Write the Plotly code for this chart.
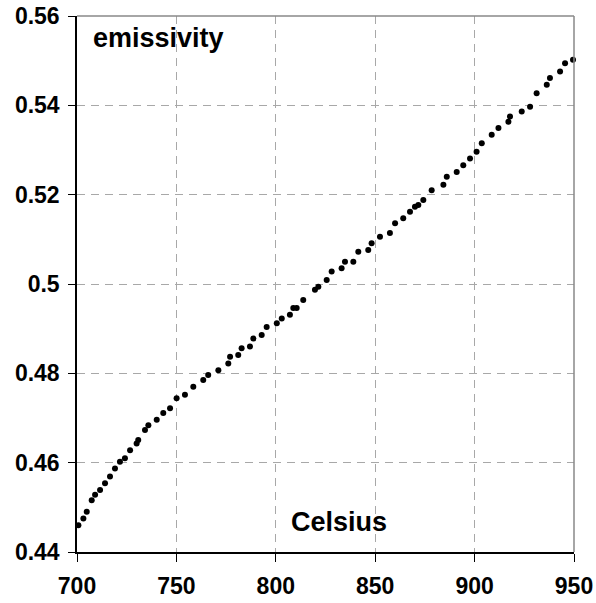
import plotly.graph_objects as go

celsius = [
    699.8, 700.7, 703.2, 704.9, 707.4, 709.1, 711.6, 714.1, 716.6, 719.1,
    721.6, 724.1, 726.7, 730.0, 730.8, 734.2, 735.9, 740.1, 743.4, 746.8,
    750.1, 754.3,
    758.5, 763.5, 766.0, 771.1, 776.1, 777.0, 781.1, 782.8, 787.0, 788.7,
    792.9, 795.4, 800.5, 803.0, 807.1, 810.5,
    808.8, 813.8, 819.7, 821.4, 825.6, 828.1, 833.1, 834.8, 839.0, 841.5,
    846.5, 848.2, 852.4, 857.4, 860.0, 864.1, 867.5, 871.7,
    870.0, 874.2, 878.4, 884.3, 886.0, 891.0, 894.3, 897.7, 901.0, 903.6,
    908.6, 912.0, 917.0, 917.8, 923.7, 927.9, 931.2, 936.3, 937.9, 943.0,
    945.5, 949.5,
]
emissivity = [
    0.4442, 0.4460, 0.4475, 0.4490, 0.4516, 0.4528, 0.4539, 0.4554, 0.4569, 0.4587,
    0.4602, 0.4610, 0.4628, 0.4643, 0.4651, 0.4673, 0.4684, 0.4696, 0.4711, 0.4722,
    0.4744, 0.4752,
    0.4770, 0.4785, 0.4796, 0.4807, 0.4822, 0.4837, 0.4841, 0.4856, 0.4860, 0.4878,
    0.4886, 0.4904, 0.4912, 0.4923, 0.4931, 0.4946,
    0.4946, 0.4964, 0.4987, 0.4994, 0.5009, 0.5028, 0.5035, 0.5050, 0.5050, 0.5072,
    0.5076, 0.5091, 0.5106, 0.5114, 0.5136, 0.5147, 0.5162, 0.5177,
    0.5173, 0.5188, 0.5210, 0.5222, 0.5240, 0.5251, 0.5266, 0.5281, 0.5296, 0.5315,
    0.5334, 0.5349, 0.5363, 0.5375, 0.5386, 0.5397, 0.5427, 0.5446, 0.5461, 0.5476,
    0.5494, 0.5502,
]

x_ticks = [700, 750, 800, 850, 900, 950]
y_ticks = [0.44, 0.46, 0.48, 0.5, 0.52, 0.54, 0.56]
y_tick_labels = ["0.44", "0.46", "0.48", "0.5", "0.52", "0.54", "0.56"]

FONT = "Liberation Sans, Arial, sans-serif"
TICKFONT = dict(family=FONT, size=23, color="black", weight="bold")

fig = go.Figure()
fig.add_trace(go.Scatter(
    x=celsius, y=emissivity, mode="markers",
    marker=dict(color="black", size=6, line=dict(width=0)),
    showlegend=False, cliponaxis=False, hoverinfo="skip",
))

fig.update_layout(
    width=596, height=603,
    margin=dict(l=77, r=22, t=16, b=51, pad=0),
    paper_bgcolor="white", plot_bgcolor="white",
    font=dict(family=FONT, size=18, color="black"),
    xaxis=dict(
        range=[700, 950], tickvals=x_ticks, ticktext=[str(v) for v in x_ticks],
        showgrid=True, gridcolor="#a8a8a8", griddash="8px,6px", gridwidth=1,
        showline=True, linecolor="black", linewidth=1.5,
        ticks="outside", ticklen=8, tickcolor="black", tickwidth=1,
        ticklabelstandoff=5,
        tickfont=TICKFONT, automargin=False, zeroline=False,
    ),
    yaxis=dict(
        range=[0.44, 0.56], tickvals=y_ticks, ticktext=y_tick_labels,
        showgrid=True, gridcolor="#a8a8a8", griddash="8px,6px", gridwidth=1,
        showline=True, linecolor="black", linewidth=1.5,
        ticks="outside", ticklen=7, tickcolor="black", tickwidth=1,
        ticklabelstandoff=4,
        tickfont=TICKFONT, automargin=False, zeroline=False,
    ),
    shapes=[
        dict(type="line", xref="paper", yref="paper", x0=0, x1=1, y0=1, y1=1,
             line=dict(color="#888888", width=1.5)),
        dict(type="line", xref="paper", yref="paper", x0=1, x1=1, y0=0, y1=1,
             line=dict(color="#888888", width=1.5)),
    ],
    annotations=[
        dict(text="emissivity", xref="paper", yref="paper", x=0.028, y=0.99,
             xanchor="left", yanchor="top", showarrow=False,
             font=dict(family=FONT, size=27, color="black", weight="bold")),
        dict(text="Celsius", xref="paper", yref="paper", x=0.527, y=0.025,
             xanchor="center", yanchor="bottom", showarrow=False,
             font=dict(family=FONT, size=27, color="black", weight="bold")),
    ],
)

fig.write_html("out.html", config={"displayModeBar": False},
               post_script="document.body.style.margin='0';")
